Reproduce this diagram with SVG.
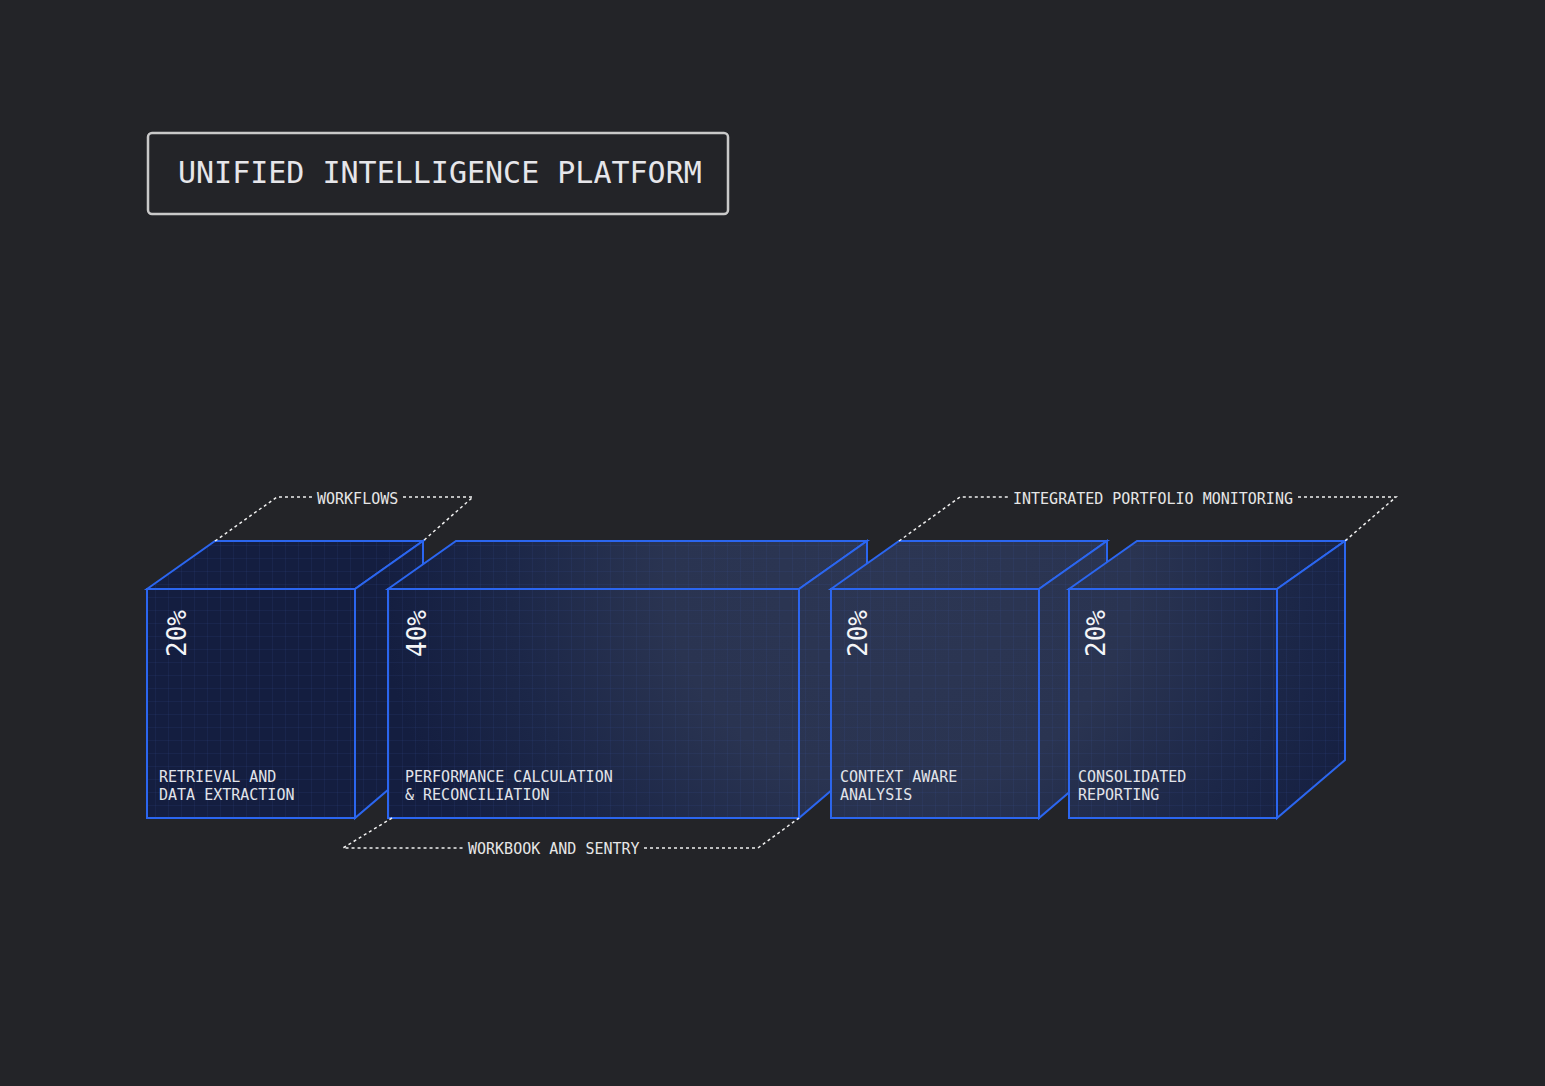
<svg xmlns="http://www.w3.org/2000/svg" width="1545" height="1086" viewBox="0 0 1545 1086">
<style>
.face{stroke:#2b66f0;stroke-width:2;stroke-linejoin:miter}
.grid{fill:url(#grid);stroke:none;pointer-events:none}
.lbl{font-family:"DejaVu Sans Mono","Liberation Mono",monospace;font-size:15px;fill:#e2e4ea}
.pct{font-family:"DejaVu Sans Mono","Liberation Mono",monospace;font-size:26px;fill:#f4f5f8}
.dash{fill:none;stroke:#f0f0f0;stroke-width:1.5;stroke-dasharray:3 3}
.ann{font-family:"DejaVu Sans Mono","Liberation Mono",monospace;font-size:15px;fill:#e6e6e6}
</style>
<defs>
<radialGradient id="glow" gradientUnits="userSpaceOnUse" cx="900" cy="580" r="520" gradientTransform="translate(900 580) scale(1 0.9) rotate(20) translate(-900 -580)">
<stop offset="0" stop-color="#2c3653"/>
<stop offset="0.45" stop-color="#2a3451"/>
<stop offset="0.75" stop-color="#1c2748"/>
<stop offset="1" stop-color="#141e40"/>
</radialGradient>
<pattern id="grid" patternUnits="userSpaceOnUse" width="13" height="13">
<path d="M13 0V13M0 13H13" fill="none" stroke="#3a5aa8" stroke-opacity="0.22" stroke-width="1"/>
</pattern>
</defs>
<rect width="1545" height="1086" fill="#232428"/>

<g id="title">
<rect x="148" y="133" width="580" height="81" rx="4" fill="none" stroke="#c9c9c9" stroke-width="2.5"/>
<text x="178" y="183" font-family="'DejaVu Sans Mono','Liberation Mono',monospace" font-size="30" fill="#e6e6ea">UNIFIED INTELLIGENCE PLATFORM</text>
</g>

<g id="box1">
<path class="face" fill="url(#glow)" d="M147 589L215 541H423L355 589Z"/>
<path class="grid" d="M147 589L215 541H423L355 589Z"/>
<path class="face" fill="url(#glow)" d="M355 589L423 541V760L355 818Z"/>
<path class="grid" d="M355 589L423 541V760L355 818Z"/>
<rect class="face" fill="url(#glow)" x="147" y="589" width="208" height="229"/>
<rect class="grid" x="147" y="589" width="208" height="229"/>
<text class="pct" x="186" y="657" transform="rotate(-90 186 657)">20%</text>
<text class="lbl" x="159" y="782">RETRIEVAL AND</text>
<text class="lbl" x="159" y="800">DATA EXTRACTION</text>
</g>

<g id="box2">
<path class="face" fill="url(#glow)" d="M388 589L456 541H867L799 589Z"/>
<path class="grid" d="M388 589L456 541H867L799 589Z"/>
<path class="face" fill="url(#glow)" d="M799 589L867 541V760L799 818Z"/>
<path class="grid" d="M799 589L867 541V760L799 818Z"/>
<rect class="face" fill="url(#glow)" x="388" y="589" width="411" height="229"/>
<rect class="grid" x="388" y="589" width="411" height="229"/>
<text class="pct" x="426" y="657" transform="rotate(-90 426 657)">40%</text>
<text class="lbl" x="405" y="782">PERFORMANCE CALCULATION</text>
<text class="lbl" x="405" y="800">&amp; RECONCILIATION</text>
</g>

<g id="box3">
<path class="face" fill="url(#glow)" d="M831 589L899 541H1107L1039 589Z"/>
<path class="grid" d="M831 589L899 541H1107L1039 589Z"/>
<path class="face" fill="url(#glow)" d="M1039 589L1107 541V760L1039 818Z"/>
<path class="grid" d="M1039 589L1107 541V760L1039 818Z"/>
<rect class="face" fill="url(#glow)" x="831" y="589" width="208" height="229"/>
<rect class="grid" x="831" y="589" width="208" height="229"/>
<text class="pct" x="867" y="657" transform="rotate(-90 867 657)">20%</text>
<text class="lbl" x="840" y="782">CONTEXT AWARE</text>
<text class="lbl" x="840" y="800">ANALYSIS</text>
</g>

<g id="box4">
<path class="face" fill="url(#glow)" d="M1069 589L1137 541H1345L1277 589Z"/>
<path class="grid" d="M1069 589L1137 541H1345L1277 589Z"/>
<path class="face" fill="url(#glow)" d="M1277 589L1345 541V760L1277 818Z"/>
<path class="grid" d="M1277 589L1345 541V760L1277 818Z"/>
<rect class="face" fill="url(#glow)" x="1069" y="589" width="208" height="229"/>
<rect class="grid" x="1069" y="589" width="208" height="229"/>
<text class="pct" x="1105" y="657" transform="rotate(-90 1105 657)">20%</text>
<text class="lbl" x="1078" y="782">CONSOLIDATED</text>
<text class="lbl" x="1078" y="800">REPORTING</text>
</g>

<g id="connectors">
<path class="dash" d="M215 541L277 497H313M403 497H473L423 541"/>
<text class="ann" x="317" y="504">WORKFLOWS</text>
<path class="dash" d="M899 541L960 497H1010M1298 497H1396L1345 541"/>
<text class="ann" x="1013" y="504">INTEGRATED PORTFOLIO MONITORING</text>
<path class="dash" d="M392 818L343 848H464M644 848H758L799 818"/>
<text class="ann" x="468" y="854">WORKBOOK AND SENTRY</text>
</g>
</svg>
